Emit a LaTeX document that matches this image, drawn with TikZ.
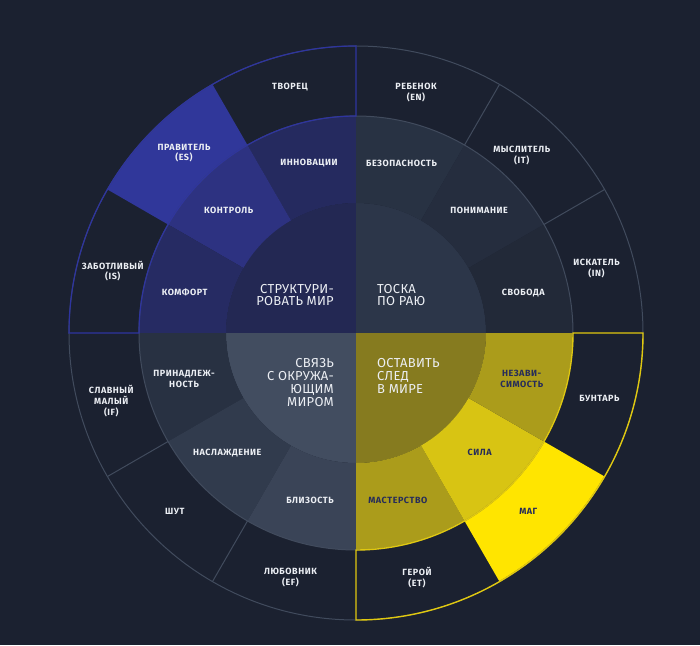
\documentclass[tikz,border=0pt]{standalone}
\usepackage{fontspec}
\setmainfont{Fira Sans}
\newfontfamily\wheelfont[LetterSpace=6]{Fira Sans}
\newfontfamily\corefont[LetterSpace=2]{Fira Sans}

\definecolor{bg}{HTML}{1B2130}
\definecolor{coreblue}{HTML}{232853}
\definecolor{coreslate}{HTML}{2C3649}
\definecolor{coregray}{HTML}{424D60}
\definecolor{coreolive}{HTML}{867B1F}
\definecolor{innov}{HTML}{252A5F}
\definecolor{kontrol}{HTML}{2D3281}
\definecolor{komfort}{HTML}{262B63}
\definecolor{bezop}{HTML}{283243}
\definecolor{ponim}{HTML}{252D3E}
\definecolor{svoboda}{HTML}{222938}
\definecolor{prinadl}{HTML}{283142}
\definecolor{naslazh}{HTML}{313B4D}
\definecolor{blizost}{HTML}{3A4457}
\definecolor{nezav}{HTML}{AB9C1B}
\definecolor{sila}{HTML}{D8C413}
\definecolor{master}{HTML}{AB9C1B}
\definecolor{pravitel}{HTML}{30379A}
\definecolor{mag}{HTML}{FFE500}
\definecolor{linegray}{HTML}{414B5D}
\definecolor{lineblue}{HTML}{2E34A0}
\definecolor{lineyellow}{HTML}{E0C80F}
\definecolor{labelwhite}{HTML}{ECEFF4}
\definecolor{labeldark}{HTML}{262C5A}

% annular sector: fill, start, end, inner r, outer r
\newcommand{\ringpart}[5]{%
  \fill[#1] (#2:#4pt) arc[start angle=#2, end angle=#3, radius=#4pt]
    -- (#3:#5pt) arc[start angle=#3, end angle=#2, radius=#5pt] -- cycle;}
% quarter of the core disc
\newcommand{\corepart}[3]{%
  \fill[#1] (0,0) -- (#2:130pt) arc[start angle=#2, end angle=#3, radius=130pt] -- cycle;}

\begin{document}
\begin{tikzpicture}[
    lbl/.style={text=labelwhite, font=\wheelfont\fontsize{9}{10.7}\selectfont\bfseries, align=center, inner sep=0pt},
    darklbl/.style={lbl, text=labeldark},
    core/.style={text=labelwhite, font=\corefont\fontsize{13}{12.8}\selectfont, inner sep=0pt},
    grayline/.style={draw=linegray, line width=1pt},
    blueline/.style={draw=lineblue, line width=1.2pt},
    yellowline/.style={draw=lineyellow, line width=1.4pt}
  ]
  \fill[bg] (-356pt,-312pt) rectangle (344pt,333pt);
  \useasboundingbox (-356pt,-312pt) rectangle (344pt,333pt);

  % core
  \corepart{coreblue}{90}{180}
  \corepart{coreslate}{0}{90}
  \corepart{coregray}{180}{270}
  \corepart{coreolive}{270}{360}

  % middle ring
  \ringpart{innov}{90}{120}{130}{217}
  \ringpart{kontrol}{120}{150}{130}{217}
  \ringpart{komfort}{150}{180}{130}{217}
  \ringpart{bezop}{60}{90}{130}{217}
  \ringpart{ponim}{30}{60}{130}{217}
  \ringpart{svoboda}{0}{30}{130}{217}
  \ringpart{prinadl}{180}{210}{130}{217}
  \ringpart{naslazh}{210}{240}{130}{217}
  \ringpart{blizost}{240}{270}{130}{217}
  \ringpart{master}{270}{300}{130}{217}
  \ringpart{sila}{300}{330}{130}{217}
  \ringpart{nezav}{330}{360}{130}{217}

  % outer ring highlights
  \ringpart{pravitel}{120}{150}{217}{287}
  \ringpart{mag}{300}{330}{217}{287}

  % grey rules
  \draw[grayline] (0,0) circle[radius=287pt];
  \draw[grayline] (0,0) circle[radius=217pt];
  \foreach \a in {30,60,210,240}
    \draw[grayline] (\a:217pt) -- (\a:287pt);

  % coloured outlines
  \draw[blueline] (90:217pt) arc[start angle=90, end angle=180, radius=217pt]
    -- (180:287pt) arc[start angle=180, end angle=90, radius=287pt] -- cycle;
  \draw[yellowline] (270:217pt) arc[start angle=270, end angle=360, radius=217pt]
    -- (0:287pt) arc[start angle=360, end angle=270, radius=287pt] -- cycle;

  % core texts
  \node[core, anchor=east, align=right] (struktura) at (-22pt,38pt) {СТРУКТУРИ-\\РОВАТЬ МИР};
  \node[core, anchor=west, align=left] (toska) at (21pt,38pt) {ТОСКА\\ПО РАЮ};
  \node[core, anchor=east, align=right] (svyaz) at (-22pt,-49.5pt) {СВЯЗЬ\\С ОКРУЖА-\\ЮЩИМ\\МИРОМ};
  \node[core, anchor=west, align=left] (sled) at (21pt,-43pt) {ОСТАВИТЬ\\СЛЕД\\В МИРЕ};

  % middle ring texts
  \node[lbl] (innovacii) at (105.5:176pt) {ИННОВАЦИИ};
  \node[lbl] (kontrol) at (136:177pt) {КОНТРОЛЬ};
  \node[lbl] (komfort) at (166.8:176pt) {КОМФОРТ};
  \node[lbl] (bezopasnost) at (75:176pt) {БЕЗОПАСНОСТЬ};
  \node[lbl] (ponimanie) at (45:174pt) {ПОНИМАНИЕ};
  \node[lbl] (svoboda) at (13.5:172pt) {СВОБОДА};
  \node[lbl] (prinadl) at (195:178pt) {ПРИНАДЛЕЖ-\\НОСТЬ};
  \node[lbl] (naslazh) at (223:176pt) {НАСЛАЖДЕНИЕ};
  \node[lbl] (blizost) at (254.7:174pt) {БЛИЗОСТЬ};
  \node[darklbl] (masterstvo) at (-76:173pt) {МАСТЕРСТВО};
  \node[darklbl] (sila) at (-44:172pt) {СИЛА};
  \node[darklbl] (nezav) at (-15.5:172pt) {НЕЗАВИ-\\СИМОСТЬ};

  % outer ring texts
  \node[lbl] (tvorec) at (105:255pt) {ТВОРЕЦ};
  \node[lbl] (pravitel) at (133.7:249pt) {ПРАВИТЕЛЬ\\(ES)};
  \node[lbl] (zabotlivy) at (165.7:251pt) {ЗАБОТЛИВЫЙ\\(IS)};
  \node[lbl] (rebenok) at (76:248pt) {РЕБЕНОК\\(EN)};
  \node[lbl] (myslitel) at (47:243pt) {МЫСЛИТЕЛЬ\\(IT)};
  \node[lbl] (iskatel) at (15:249pt) {ИСКАТЕЛЬ\\(IN)};
  \node[lbl] (slavny) at (195.5:254pt) {СЛАВНЫЙ\\МАЛЫЙ\\(IF)};
  \node[lbl] (shut) at (224.5:254pt) {ШУТ};
  \node[lbl] (lyubovnik) at (255:253pt) {ЛЮБОВНИК\\(EF)};
  \node[lbl] (geroi) at (-76:252pt) {ГЕРОЙ\\(ET)};
  \node[darklbl] (mag) at (-46:248pt) {МАГ};
  \node[lbl] (buntar) at (-15:252pt) {БУНТАРЬ};
\end{tikzpicture}
\end{document}
